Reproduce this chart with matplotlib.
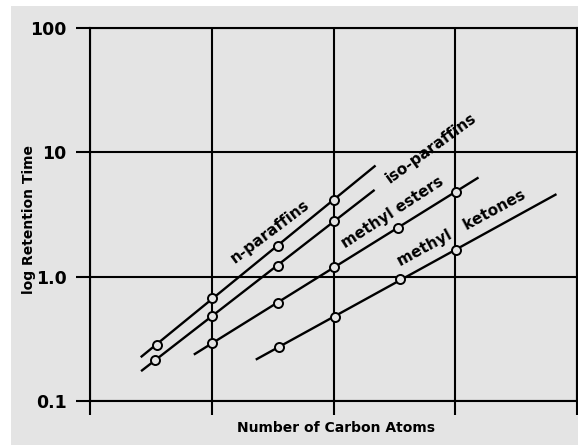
import numpy as np
import matplotlib
matplotlib.use('Agg')
import matplotlib.pyplot as plt
from matplotlib.patches import Rectangle

# ---- data (x in grid units: vertical grid lines at 0..4) ----
grid_x = [0, 1, 2, 3, 4]
y_ticks = [0.1, 1.0, 10, 100]
y_tick_labels = ['0.1', '1.0', '10', '100']

n_paraffins_x = [0.547, 1.0, 1.542, 2.0]
n_paraffins_y = [0.282, 0.675, 1.77, 4.14]
n_paraffins_span = [0.424, 2.338]

iso_paraffins_x = [0.533, 1.005, 1.546, 2.0]
iso_paraffins_y = [0.214, 0.483, 1.22, 2.81]
iso_paraffins_span = [0.427, 2.33]

methyl_esters_x = [1.006, 1.542, 2.0, 2.527, 3.003]
methyl_esters_y = [0.293, 0.613, 1.20, 2.47, 4.80]
methyl_esters_span = [0.861, 3.183]

methyl_ketones_x = [1.55, 2.01, 2.543, 3.01]
methyl_ketones_y = [0.272, 0.474, 0.958, 1.64]
methyl_ketones_span = [1.370, 3.823]

series = [
    (n_paraffins_x, n_paraffins_y, n_paraffins_span),
    (iso_paraffins_x, iso_paraffins_y, iso_paraffins_span),
    (methyl_esters_x, methyl_esters_y, methyl_esters_span),
    (methyl_ketones_x, methyl_ketones_y, methyl_ketones_span),
]

BG = '#e4e4e4'
W, H = 578, 445
fig = plt.figure(figsize=(W / 100, H / 100), dpi=100, facecolor='white')
fig.patches.append(Rectangle((11 / W, 0), 1, 1 - 6 / H, transform=fig.transFigure,
                             facecolor=BG, edgecolor='none', zorder=-10))

ax = fig.add_axes([90 / W, 1 - 401 / H, 487 / W, (401 - 28) / H])
ax.set_facecolor(BG)
ax.set_yscale('log')
ax.set_xlim(grid_x[0], grid_x[-1])
ax.set_ylim(y_ticks[0], y_ticks[-1])
ax.set_yticks(y_ticks)
ax.set_yticklabels(y_tick_labels)
ax.yaxis.set_minor_locator(matplotlib.ticker.NullLocator())
ax.set_xticks(grid_x)
ax.set_xticklabels([])
ax.grid(True, color='black', lw=1.5)
ax.set_axisbelow(True)
for s in ax.spines.values():
    s.set_linewidth(1.5)
    s.set_color('black')
ax.tick_params(axis='y', length=10, width=1.5, pad=7, labelsize=12.5)
ax.tick_params(axis='x', length=10, width=1.5)
for lab in ax.get_yticklabels():
    lab.set_fontweight('bold')

for xs, ys, span in series:
    fit = np.polyfit(xs, np.log10(ys), 1)
    sx = np.array(span)
    ax.plot(sx, 10 ** np.polyval(fit, sx), color='black', lw=1.7, zorder=3)
    ax.plot(xs, ys, 'o', mfc=BG, mec='black', ms=6.5, mew=1.4, zorder=4)

tkw = dict(fontsize=11, fontweight='bold', ha='center', va='center',
           rotation_mode='anchor', transform=None)
fig.text(270 / W, 1 - 232 / H, 'n-paraffins', rotation=37, fontsize=11,
         fontweight='bold', ha='center', va='center')
fig.text(431 / W, 1 - 148 / H, 'iso-paraffins', rotation=36, fontsize=11,
         fontweight='bold', ha='center', va='center')
fig.text(393 / W, 1 - 212 / H, 'methyl esters', rotation=33, fontsize=11,
         fontweight='bold', ha='center', va='center')
fig.text(461 / W, 1 - 228 / H, 'methyl   ketones', rotation=28.5, fontsize=11,
         fontweight='bold', ha='center', va='center')

fig.text(29 / W, 1 - 220 / H, 'log Retention Time', rotation=90, fontsize=10,
         fontweight='bold', ha='center', va='center')
fig.text(336 / W, 1 - 428 / H, 'Number of Carbon Atoms', fontsize=10,
         fontweight='bold', ha='center', va='center')

fig.savefig('out.png', dpi=100, facecolor=fig.get_facecolor())
